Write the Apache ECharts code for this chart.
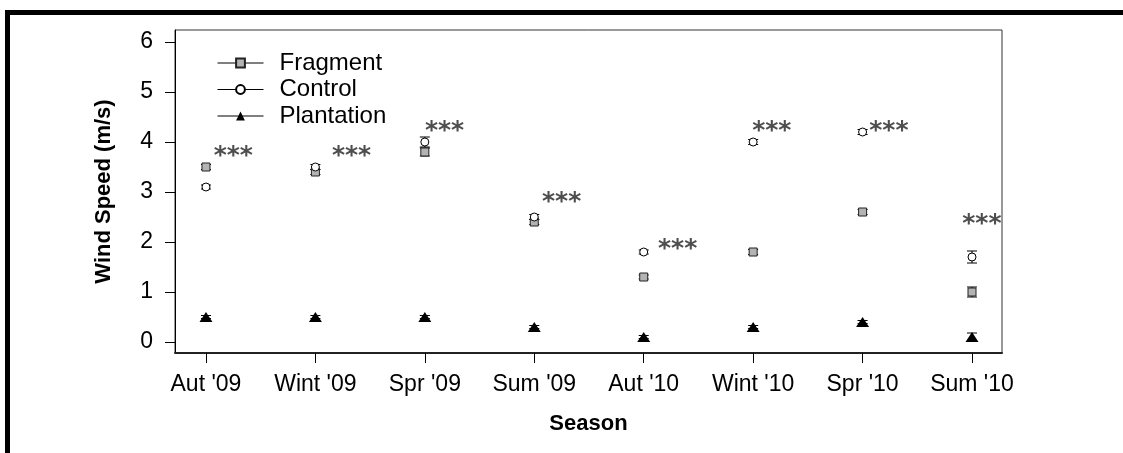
<!DOCTYPE html>
<html>
<head>
<meta charset="utf-8">
<script src="https://cdn.jsdelivr.net/npm/echarts@6/dist/echarts.min.js"></script>
<style>
html,body{margin:0;padding:0;background:#fff;}
#chart{width:1123px;height:453px;}
</style>
</head>
<body>
<div id="chart"></div>
<script>
// ---- data ----
const seasons = ["Aut '09", "Wint '09", "Spr '09", "Sum '09", "Aut '10", "Wint '10", "Spr '10", "Sum '10"];
const fragment      = [3.5, 3.4, 3.8, 2.4, 1.3, 1.8, 2.6, 1.0];
const fragmentErr   = [0.05, 0.05, 0.08, 0.05, 0.04, 0.05, 0.05, 0.10];
const control       = [3.1, 3.5, 4.0, 2.5, 1.8, 4.0, 4.2, 1.7];
const controlErr    = [0.04, 0.05, 0.10, 0.05, 0.04, 0.05, 0.05, 0.12];
const plantation    = [0.5, 0.5, 0.5, 0.3, 0.1, 0.3, 0.4, 0.1];
const plantationErr = [0.03, 0.03, 0.03, 0.03, 0.03, 0.03, 0.03, 0.08];
const yTicks = [0, 1, 2, 3, 4, 5, 6];
// significance annotations: [season index offset, y value]
const sigX = [0.25, 1.33, 2.18, 3.25, 4.31, 5.17, 6.24, 7.09];
const sigY = [3.8, 3.8, 4.3, 2.88, 1.94, 4.3, 4.3, 2.44];
const sigText = '***';

const FONT = 'Liberation Sans, Arial, sans-serif';

function pts(vals) { return vals.map((v, i) => [i, v]); }
function errData(vals, errs) { return vals.map((v, i) => [i, v - errs[i], v + errs[i]]); }

function errSeries(vals, errs) {
  return {
    type: 'custom',
    silent: true,
    z: 1,
    data: errData(vals, errs),
    renderItem: function (params, api) {
      const lo = api.coord([api.value(0), api.value(1)]);
      const hi = api.coord([api.value(0), api.value(2)]);
      const w = 5;
      const st = { stroke: '#000', lineWidth: 1 };
      return {
        type: 'group',
        children: [
          { type: 'line', shape: { x1: lo[0], y1: lo[1], x2: hi[0], y2: hi[1] }, style: st },
          { type: 'line', shape: { x1: lo[0] - w, y1: lo[1], x2: lo[0] + w, y2: lo[1] }, style: st },
          { type: 'line', shape: { x1: hi[0] - w, y1: hi[1], x2: hi[0] + w, y2: hi[1] }, style: st }
        ]
      };
    }
  };
}

const chart = echarts.init(document.getElementById('chart'), null, { renderer: 'canvas' });
const option = {
  animation: false,
  backgroundColor: '#fff',
  textStyle: { fontFamily: FONT },
  graphic: [
    { type: 'rect', shape: { x: 5, y: 10, width: 1118, height: 5 }, style: { fill: '#000' } },
    { type: 'rect', shape: { x: 5, y: 10, width: 5, height: 443 }, style: { fill: '#000' } }
  ],
  grid: {
    left: 175, right: 121, top: 30, bottom: 100,
    show: true, borderColor: '#333', borderWidth: 1, backgroundColor: 'transparent'
  },
  legend: {
    orient: 'vertical',
    left: 212, top: 46,
    itemWidth: 46, itemHeight: 11, itemGap: 2.5,
    data: ['Fragment', 'Control', 'Plantation'],
    lineStyle: { color: '#000', width: 1, opacity: 1 },
    textStyle: { fontFamily: FONT, fontSize: 24, color: '#000', lineHeight: 24, padding: [0, 0, 0, 11] }
  },
  xAxis: {
    type: 'value',
    min: -0.283, max: 7.274,
    name: 'Season', nameLocation: 'middle', nameGap: 60,
    nameTextStyle: { fontFamily: FONT, fontSize: 22, fontWeight: 'bold', color: '#000' },
    axisLine: { show: true, onZero: false, lineStyle: { color: '#222', width: 2 } },
    axisTick: { show: true, length: 10, customValues: seasons.map((s, i) => i), lineStyle: { color: '#000' } },
    axisLabel: { customValues: seasons.map((s, i) => i), formatter: v => seasons[Math.round(v)], fontFamily: FONT, fontSize: 23, color: '#000', margin: 20 },
    splitLine: { show: false }
  },
  yAxis: {
    type: 'value',
    min: -0.22, max: 6.24,
    name: 'Wind Speed (m/s)', nameLocation: 'middle', nameGap: 60,
    nameTextStyle: { fontFamily: FONT, fontSize: 22, fontWeight: 'bold', color: '#000' },
    axisLine: { show: true, onZero: false, lineStyle: { color: '#000', width: 1 } },
    axisTick: { show: true, length: 10, customValues: yTicks, lineStyle: { color: '#000' } },
    axisLabel: { customValues: yTicks, fontFamily: FONT, fontSize: 23, color: '#000', margin: 22 },
    splitLine: { show: false }
  },
  series: [
    errSeries(fragment, fragmentErr),
    errSeries(control, controlErr),
    errSeries(plantation, plantationErr),
    {
      name: 'Fragment', type: 'line', data: pts(fragment), z: 3,
      symbol: 'rect', symbolSize: 8, showAllSymbol: true,
      lineStyle: { opacity: 0 },
      itemStyle: { color: '#b3b3b3', borderColor: '#222', borderWidth: 1 }
    },
    {
      name: 'Control', type: 'line', data: pts(control), z: 3,
      symbol: 'circle', symbolSize: 8, showAllSymbol: true,
      lineStyle: { opacity: 0 },
      itemStyle: { color: '#fff', borderColor: '#000', borderWidth: 1 }
    },
    {
      name: 'Plantation', type: 'line', data: pts(plantation), z: 3,
      symbol: 'triangle', symbolSize: [13, 10], showAllSymbol: true,
      lineStyle: { opacity: 0 },
      itemStyle: { color: '#000', borderColor: '#000', borderWidth: 0 }
    },
    {
      type: 'scatter', silent: true, z: 4,
      data: sigX.map((x, i) => [x, sigY[i]]),
      symbolSize: 0, itemStyle: { color: 'rgba(0,0,0,0)' },
      label: {
        show: true, position: 'inside', formatter: sigText,
        fontFamily: 'DejaVu Sans', fontWeight: 'bold', fontSize: 25, color: '#222', offset: [0, 4]
      }
    }
  ]
};
chart.setOption(option);
</script>
</body>
</html>
